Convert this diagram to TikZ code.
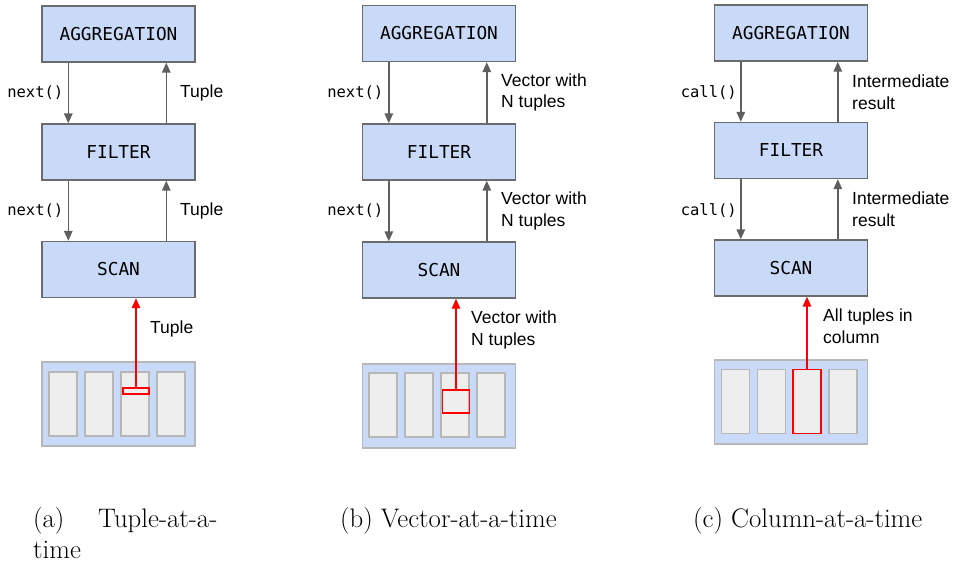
\documentclass[tikz,border=0pt]{standalone}
\usepackage{fontspec}
\newfontfamily\labelfont{Liberation Sans}
\newfontfamily\codefont{DejaVu Sans Mono}
\usetikzlibrary{arrows.meta}

\definecolor{opfill}{HTML}{C9DAF8}
\definecolor{opedge}{HTML}{6B6B6B}
\definecolor{colfill}{HTML}{EEEEEE}
\definecolor{coledge}{HTML}{B7B7B7}
\definecolor{flowgray}{HTML}{5F5F5F}
\definecolor{hotred}{HTML}{FF0000}

\tikzset{
  opbox/.style={draw=opedge, fill=opfill, line width=1.4pt, minimum width=153pt,
    minimum height=56pt, inner sep=0pt, font=\codefont\fontsize{17.8}{20}\selectfont},
  store/.style={draw=coledge, fill=opfill, line width=1.4pt, minimum width=153pt,
    minimum height=84pt, inner sep=0pt},
  colbox/.style={draw=coledge, fill=colfill, line width=1.4pt, minimum width=28pt,
    minimum height=64pt, inner sep=0pt},
  hot/.style={draw=hotred, line width=1.4pt, inner sep=0pt},
  flow/.style={draw=flowgray, line width=1.6pt,
    -{Triangle[length=10pt,width=8.5pt]}, fill=flowgray},
  hotflow/.style={draw=hotred, line width=1.6pt,
    -{Triangle[length=10pt,width=8.5pt]}, fill=hotred},
  calltext/.style={font=\codefont\fontsize{15.5}{18}\selectfont, anchor=east, inner sep=0pt},
  resulttext/.style={font=\labelfont\fontsize{17.5}{21.5}\selectfont, anchor=west,
    align=left, inner sep=0pt},
  captext/.style={font=\fontsize{26.8}{32}\selectfont, anchor=base west, inner sep=0pt}
}

\begin{document}
\begin{tikzpicture}[x=1pt, y=-1pt]
\useasboundingbox (0,0) rectangle (955,562);

% ---------- (a) tuple-at-a-time ----------
\begin{scope}[shift={(42,0)}]
  \node[opbox] (a-agg)  at (76.5,34)    {AGGREGATION};
  \node[opbox] (a-fil)  at (76.5,152)   {FILTER};
  \node[opbox] (a-scan) at (76.5,269.5) {SCAN};
  \node[store] (a-store) at (76.5,404) {};
  \foreach \cx [count=\i] in {21,57,93,129}
    \node[colbox] (a-col\i) at (\cx,404) {};
  \node[hot, minimum width=26pt, minimum height=6pt] (a-tuple) at (94,391) {};

  \draw[flow] ([xshift=27pt]a-agg.south west) -- ([xshift=27pt]a-fil.north west);
  \draw[flow] ([xshift=125pt]a-fil.north west) -- ([xshift=125pt]a-agg.south west);
  \draw[flow] ([xshift=27pt]a-fil.south west) -- ([xshift=27pt]a-scan.north west);
  \draw[flow] ([xshift=125pt]a-scan.north west) -- ([xshift=125pt]a-fil.south west);
  \draw[hotflow] (a-tuple.north) -- (a-tuple.north |- a-scan.south);

  \node[calltext] (a-call1) at (21.5,93) {next()};
  \node[calltext] (a-call2) at (21.5,211) {next()};
  \node[resulttext] (a-res1) at (138,93) {Tuple};
  \node[resulttext] (a-res2) at (138,211) {Tuple};
  \node[resulttext] (a-res3) at (108,329) {Tuple};
\end{scope}

% ---------- (b) vector-at-a-time ----------
\begin{scope}[shift={(362,0)}]
  \node[opbox] (b-agg)  at (77,33.5) {AGGREGATION};
  \node[opbox] (b-fil)  at (77,152)  {FILTER};
  \node[opbox] (b-scan) at (77,270)  {SCAN};
  \node[store] (b-store) at (77,406) {};
  \foreach \cx [count=\i] in {21,57,93,129}
    \node[colbox] (b-col\i) at (\cx,405) {};
  \node[hot, minimum width=27pt, minimum height=23pt] (b-vec) at (94,401.5) {};

  \draw[flow] ([xshift=27pt]b-agg.south west) -- ([xshift=27pt]b-fil.north west);
  \draw[flow] ([xshift=125pt]b-fil.north west) -- ([xshift=125pt]b-agg.south west);
  \draw[flow] ([xshift=27pt]b-fil.south west) -- ([xshift=27pt]b-scan.north west);
  \draw[flow] ([xshift=125pt]b-scan.north west) -- ([xshift=125pt]b-fil.south west);
  \draw[hotflow] (b-vec.north) -- (b-vec.north |- b-scan.south);

  \node[calltext] (b-call1) at (21.5,93) {next()};
  \node[calltext] (b-call2) at (21.5,211) {next()};
  \node[resulttext] (b-res1) at (139,92.5) {Vector with\\N tuples};
  \node[resulttext] (b-res2) at (139,211) {Vector with\\N tuples};
  \node[resulttext] (b-res3) at (109,330) {Vector with\\N tuples};
\end{scope}

% ---------- (c) column-at-a-time ----------
\begin{scope}[shift={(715,0)}]
  \node[opbox] (c-agg)  at (76,33)  {AGGREGATION};
  \node[opbox] (c-fil)  at (76,150.5) {FILTER};
  \node[opbox] (c-scan) at (76,268) {SCAN};
  \node[store] (c-store) at (76,402) {};
  \node[colbox] (c-col1) at (20.5,401.5) {};
  \node[colbox] (c-col2) at (56.5,401.5) {};
  \node[colbox, draw=hotred] (c-col3) at (92,401.5) {};
  \node[colbox] (c-col4) at (128,401.5) {};

  \draw[flow] ([xshift=27pt]c-agg.south west) -- ([xshift=27pt]c-fil.north west);
  \draw[flow] ([xshift=124pt]c-fil.north west) -- ([xshift=124pt]c-agg.south west);
  \draw[flow] ([xshift=27pt]c-fil.south west) -- ([xshift=27pt]c-scan.north west);
  \draw[flow] ([xshift=124pt]c-scan.north west) -- ([xshift=124pt]c-fil.south west);
  \draw[hotflow] (c-col3.north) -- (c-col3.north |- c-scan.south);

  \node[calltext] (c-call1) at (22,93) {call()};
  \node[calltext] (c-call2) at (22,211) {call()};
  \node[resulttext] (c-res1) at (137,92) {Intermediate\\result};
  \node[resulttext] (c-res2) at (137,209) {Intermediate\\result};
  \node[resulttext] (c-res3) at (108,326) {All tuples in\\column};
\end{scope}

% ---------- captions ----------
\node[captext] (cap-a1) at (33,527) {(a)};
\node[captext] (cap-a2) at (98,527) {Tuple-at-a-};
\node[captext] (cap-a3) at (33,558) {time};
\node[captext] (cap-b)  at (340,527) {(b) Vector-at-a-time};
\node[captext] (cap-c)  at (693,527) {(c) Column-at-a-time};
\end{tikzpicture}
\end{document}
